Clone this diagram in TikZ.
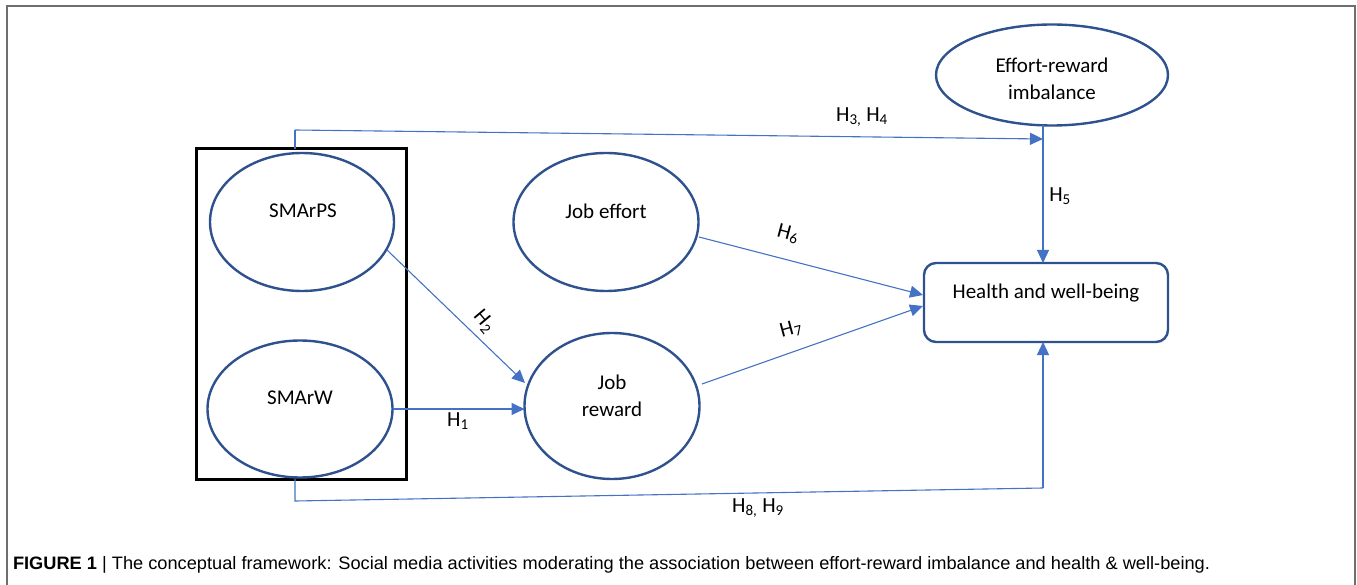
\documentclass[tikz,border=0pt]{standalone}
\usepackage{fontspec}
\setmainfont{Carlito}
\newfontfamily\capfont{Liberation Sans}
\usetikzlibrary{arrows.meta,calc,shapes.geometric}
\definecolor{lineblue}{RGB}{68,114,196}
\definecolor{nodeblue}{RGB}{47,82,143}
\definecolor{framegray}{RGB}{110,110,110}
\begin{document}
\begin{tikzpicture}[x=1pt,y=-1pt,
  every node/.style={inner sep=0pt, outer sep=0pt},
  ell/.style={ellipse, draw=nodeblue, line width=2.4pt},
  txt/.style={font=\fontsize{21}{27}\selectfont, align=center},
  hl/.style={font=\fontsize{21.5}{25}\selectfont},
  arr/.style={draw=lineblue, line width=1.1pt, -{Triangle[length=13pt,width=12pt]}},
  ln/.style={draw=lineblue, line width=1.1pt},
]
\useasboundingbox (0,0) rectangle (1357,585);
\draw[framegray, line width=1.6pt] (7,600) -- (7,6) -- (1355,6) -- (1355,600);

% shapes
\node[draw=black, line width=3pt, minimum width=210pt, minimum height=330pt] (box) at (301,314) {};
\node[ell, minimum width=184pt, minimum height=138pt] (smps) at (302,222) {};
\node[ell, minimum width=185pt, minimum height=137pt] (smw) at (300,409) {};
\node[ell, minimum width=185pt, minimum height=138pt] (je) at (606,222) {};
\node[ell, minimum width=175pt, minimum height=146pt] (jr) at (612,406) {};
\node[ell, minimum width=232pt, minimum height=101pt] (er) at (1052,75) {};
\node[draw=nodeblue, line width=2.4pt, rounded corners=12pt, minimum width=244pt, minimum height=79pt] (hb) at (1046,302.5) {};

% texts
\node[txt] (tsmps) at (303,211) {SMArPS};
\node[txt] (tsmw) at (300,398) {SMArW};
\node[txt] (tje) at (606,211) {Job effort};
\node[txt] (tjr) at (612,396) {Job\\reward};
\node[txt] (ter) at (1052,79) {Effort-reward\\imbalance};
\node[txt] (thb) at (1046,293) {Health and well-being};

% coordinates
\coordinate (topA) at (295,130);
\coordinate (erIn) at (1043,139);
\coordinate (erOut) at (1043,125);
\coordinate (hbTop) at (1043,263);
\coordinate (botA) at (295,501);
\coordinate (botB) at (1043,488);
\coordinate (hbBot) at (1043,342);
\coordinate (smpsOut) at (387,250);
\coordinate (jrIn2) at (525,383);
\coordinate (jeOut) at (699,237);
\coordinate (hbIn6) at (923,295);
\coordinate (jrOut) at (702,384);
\coordinate (hbIn7) at (923,306);

% connectors
\draw[ln] (box.north -| topA) -- (topA);
\draw[arr] (topA) -- (erIn);
\draw[arr] (erOut) -- (hbTop);
\draw[ln] (box.south -| botA) -- (botA) -- (botB);
\draw[arr] (botB) -- (hbBot);
\draw[arr] (smpsOut) -- (jrIn2);
\draw[arr] (smw.east) -- (smw.east -| jr.west);
\draw[arr] (jeOut) -- (hbIn6);
\draw[arr] (jrOut) -- (hbIn7);

% labels
\node[hl] (h34) at (862,117) {H\textsubscript{3,} H\textsubscript{4}};
\node[hl] (h5) at (1060,196) {H\textsubscript{5}};
\node[hl, rotate=-50] (h2) at (484,322) {H\kern0.5pt\textsubscript{2}};
\node[hl] (h1) at (458,421) {H\textsubscript{1}};
\node[hl, rotate=-15] (h6) at (788,234) {H\kern0.5pt\textsubscript{6}};
\node[hl, rotate=15] (h7) at (791,329) {H\kern0.5pt\textsubscript{7}};
\node[hl] (h89) at (758,508) {H\textsubscript{8,} H\textsubscript{9}};

% caption
\node[anchor=west, font=\capfont\fontsize{18}{20}\selectfont] (cap) at (13,565)
  {\resizebox{1197pt}{\height}{\textbf{FIGURE 1} | The conceptual framework: Social media activities moderating the association between effort-reward imbalance and health \& well-being.}};
\end{tikzpicture}
\end{document}
